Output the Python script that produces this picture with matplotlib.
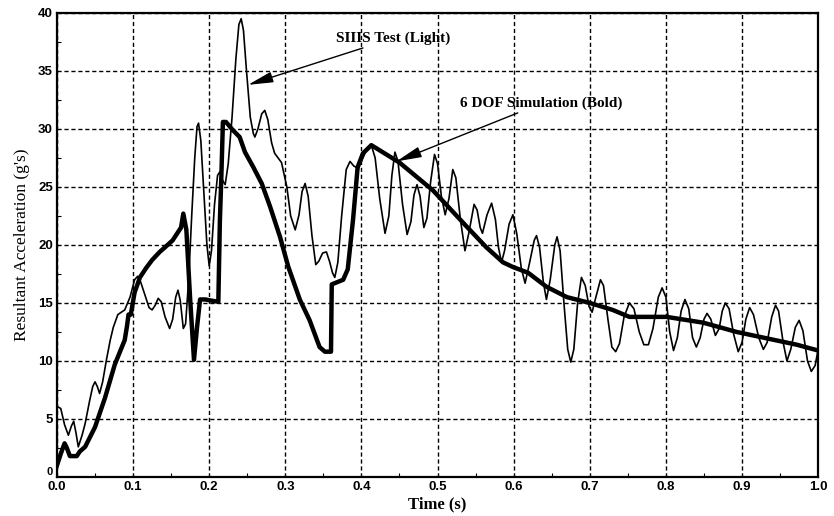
import matplotlib
matplotlib.use("Agg")
import matplotlib.pyplot as plt
from matplotlib.ticker import MultipleLocator
from matplotlib.transforms import ScaledTranslation

# SIIIS test (light line)
test_t = [0.000, 0.005, 0.010, 0.015, 0.019, 0.022, 0.025, 0.028, 0.033, 0.037,
          0.043, 0.047, 0.050, 0.053, 0.056, 0.060, 0.065, 0.070, 0.074, 0.080,
          0.089, 0.096, 0.102, 0.106, 0.110, 0.116, 0.121, 0.125, 0.129, 0.133,
          0.137, 0.142, 0.148, 0.152, 0.156, 0.159, 0.162, 0.166, 0.169, 0.173,
          0.177, 0.181, 0.184, 0.186, 0.189, 0.193, 0.197, 0.200, 0.203, 0.207,
          0.211, 0.214, 0.218, 0.221, 0.225, 0.230, 0.235, 0.239, 0.242, 0.245,
          0.249, 0.254, 0.258, 0.260, 0.264, 0.269, 0.273, 0.277, 0.282, 0.286,
          0.295, 0.302, 0.307, 0.313, 0.318, 0.322, 0.326, 0.330, 0.335, 0.340,
          0.344, 0.349, 0.354, 0.358, 0.362, 0.365, 0.369, 0.374, 0.380, 0.385,
          0.390, 0.396, 0.402, 0.408, 0.413, 0.418, 0.424, 0.431, 0.436, 0.440,
          0.444, 0.448, 0.454, 0.460, 0.465, 0.469, 0.473, 0.477, 0.482, 0.486,
          0.491, 0.496, 0.500, 0.505, 0.510, 0.515, 0.520, 0.524, 0.530, 0.536,
          0.541, 0.548, 0.552, 0.556, 0.559, 0.565, 0.571, 0.576, 0.580, 0.584,
          0.588, 0.594, 0.599, 0.604, 0.610, 0.615, 0.621, 0.627, 0.630, 0.634,
          0.639, 0.643, 0.648, 0.654, 0.657, 0.661, 0.666, 0.671, 0.675, 0.679,
          0.684, 0.689, 0.694, 0.699, 0.703, 0.708, 0.714, 0.718, 0.724, 0.729,
          0.734, 0.739, 0.745, 0.752, 0.758, 0.765, 0.771, 0.777, 0.783, 0.790,
          0.795, 0.800, 0.805, 0.810, 0.815, 0.820, 0.825, 0.830, 0.835, 0.840,
          0.845, 0.850, 0.854, 0.859, 0.865, 0.870, 0.874, 0.878, 0.883, 0.889,
          0.895, 0.900, 0.905, 0.910, 0.915, 0.922, 0.928, 0.933, 0.939, 0.944,
          0.948, 0.954, 0.959, 0.964, 0.970, 0.975, 0.980, 0.986, 0.991, 0.996,
          1.000]
test_g = [6.1, 5.9, 4.5, 3.6, 4.4, 4.8, 3.8, 2.6, 3.6, 4.6,
          6.6, 7.8, 8.2, 7.8, 7.2, 8.2, 10.1, 11.8, 12.9, 14.0,
          14.4, 15.5, 17.0, 17.3, 16.8, 15.6, 14.6, 14.4, 14.8, 15.4,
          15.1, 13.8, 12.8, 13.6, 15.5, 16.1, 15.2, 12.8, 13.2, 17.0,
          22.5, 27.5, 30.2, 30.5, 29.0, 24.5, 20.0, 18.2, 19.5, 23.5,
          26.0, 26.3, 25.5, 25.2, 27.0, 31.0, 36.0, 39.0, 39.5, 38.5,
          35.0, 31.0, 29.6, 29.3, 30.0, 31.3, 31.6, 30.8, 28.8, 27.9,
          27.1, 25.0, 22.5, 21.3, 22.6, 24.6, 25.3, 24.2, 20.8, 18.3,
          18.6, 19.3, 19.4, 18.6, 17.6, 17.2, 18.5, 22.5, 26.5, 27.2,
          26.8, 26.6, 27.5, 28.4, 28.6, 27.5, 24.0, 21.0, 22.5, 26.0,
          28.0, 27.2, 23.5, 20.9, 22.0, 24.3, 25.2, 24.2, 21.5, 22.3,
          25.5, 27.8, 27.0, 24.2, 22.6, 24.0, 26.5, 25.8, 22.2, 19.5,
          21.0, 23.5, 23.0, 21.5, 21.0, 22.6, 23.6, 22.2, 19.8, 18.5,
          19.5, 21.8, 22.6, 21.0, 18.0, 16.7, 18.5, 20.4, 20.8, 19.8,
          16.8, 15.3, 17.0, 20.0, 20.7, 19.5, 15.0, 11.0, 9.9, 11.0,
          15.0, 17.2, 16.5, 14.7, 14.2, 15.5, 17.0, 16.5, 13.5, 11.2,
          10.8, 11.5, 13.8, 15.0, 14.5, 12.5, 11.4, 11.4, 12.8, 15.5,
          16.3, 15.5, 12.5, 10.9, 12.0, 14.3, 15.3, 14.5, 12.0, 11.2,
          12.0, 13.6, 14.1, 13.6, 12.2, 12.8, 14.3, 15.0, 14.5, 12.3,
          10.8, 11.6, 13.6, 14.6, 14.0, 12.0, 11.0, 11.6, 13.8, 14.8,
          14.3, 11.6, 10.0, 11.0, 12.9, 13.5, 12.6, 10.0, 9.1, 9.6,
          11.0]

# 6 DOF simulation (bold line)
sim_t = [0.000, 0.005, 0.010, 0.013, 0.017, 0.026, 0.030, 0.037, 0.050, 0.063,
         0.076, 0.089, 0.092, 0.094, 0.097, 0.102, 0.109, 0.117, 0.125, 0.135,
         0.142, 0.152, 0.158, 0.163, 0.166, 0.170, 0.175, 0.180, 0.184, 0.188,
         0.195, 0.203, 0.212, 0.214, 0.216, 0.218, 0.222, 0.231, 0.240, 0.247,
         0.258, 0.269, 0.280, 0.293, 0.304, 0.319, 0.332, 0.345, 0.352, 0.360,
         0.361, 0.376, 0.382, 0.389, 0.395, 0.402, 0.413, 0.450, 0.494, 0.538,
         0.564, 0.586, 0.599, 0.619, 0.643, 0.670, 0.700, 0.730, 0.752, 0.801,
         0.849, 0.893, 0.936, 0.972, 1.000]
sim_g = [1.0, 2.0, 2.9, 2.5, 1.8, 1.8, 2.2, 2.6, 4.3, 6.8,
         9.7, 11.8, 13.0, 14.0, 14.0, 15.9, 17.2, 18.0, 18.7, 19.4,
         19.8, 20.4, 21.0, 21.5, 22.7, 21.3, 15.3, 10.1, 12.9, 15.3,
         15.3, 15.2, 15.1, 22.0, 26.0, 30.6, 30.6, 29.9, 29.3, 28.0,
         26.7, 25.3, 23.3, 20.7, 18.1, 15.3, 13.5, 11.2, 10.8, 10.8,
         16.6, 17.0, 17.9, 22.2, 26.7, 27.9, 28.6, 27.1, 24.7, 21.6,
         19.8, 18.5, 18.1, 17.6, 16.4, 15.5, 15.0, 14.4, 13.8, 13.8,
         13.3, 12.5, 11.9, 11.4, 10.9]

x_ticks = [0.0, 0.1, 0.2, 0.3, 0.4, 0.5, 0.6, 0.7, 0.8, 0.9, 1.0]
y_ticks = [0, 5, 10, 15, 20, 25, 30, 35, 40]

serif = "Liberation Serif"
sans = "Liberation Sans"

fig = plt.figure(figsize=(8.34, 5.16), dpi=100)
ax = fig.add_axes([0.0683, 0.0756, 0.9127, 0.8994])

ax.plot(test_t, test_g, color="black", lw=1.2)
ax.plot(sim_t, sim_g, color="black", lw=3.2, solid_joinstyle="round")

ax.set_xlim(0, 1.0)
ax.set_ylim(0, 40)
ax.set_xticks(x_ticks)
ax.set_xticklabels(["%.1f" % v for v in x_ticks])
ax.set_yticks(y_ticks)
ax.xaxis.set_minor_locator(MultipleLocator(0.05))
ax.yaxis.set_minor_locator(MultipleLocator(2.5))
ax.tick_params(which="both", direction="in", top=False, right=False)
ax.tick_params(which="major", length=0, pad=3)
ax.tick_params(which="minor", length=3, width=0.8)
for lab in ax.get_xticklabels() + ax.get_yticklabels():
    lab.set_fontfamily(sans)
    lab.set_fontweight("bold")
    lab.set_fontsize(9.5)
# the "0" on the y axis sits a little above the corner, as in the original
ylab0 = ax.get_yticklabels()[0]
ylab0.set_transform(ylab0.get_transform() + ScaledTranslation(0, 4 / 72, fig.dpi_scale_trans))
ylab0.set_fontsize(8)

ax.grid(True, which="major", color="black", linestyle=(0, (3, 2)), lw=1.0)
for s in ax.spines.values():
    s.set_linewidth(1.6)

ax.set_xlabel("Time (s)", family=serif, fontsize=12, fontweight="bold", labelpad=2)
ax.set_ylabel("Resultant Acceleration (g's)", family=serif, fontsize=12.5, labelpad=6)

arrow = dict(arrowstyle="-|>,head_length=1.4,head_width=0.3", color="black",
             lw=1.0, shrinkA=0, shrinkB=0)
ax.annotate("SIIIS Test (Light)", xy=(0.251, 33.8), xytext=(0.366, 37.8),
            family=serif, fontsize=11, fontweight="bold", va="center", ha="left",
            arrowprops=arrow)
ax.annotate("6 DOF Simulation (Bold)", xy=(0.446, 27.2), xytext=(0.530, 32.2),
            family=serif, fontsize=11, fontweight="bold", va="center", ha="left",
            arrowprops=arrow)

fig.savefig("out.png", dpi=100)
